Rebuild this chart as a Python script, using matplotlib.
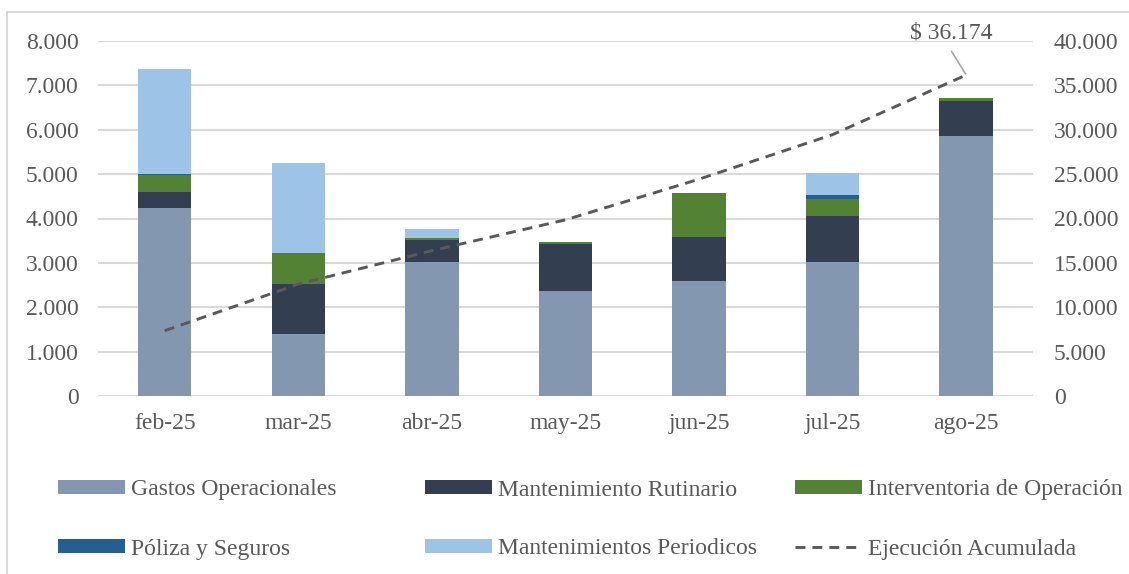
import matplotlib
matplotlib.use("Agg")
import matplotlib.pyplot as plt
from matplotlib.lines import Line2D
import numpy as np

months = ["feb-25", "mar-25", "abr-25", "may-25", "jun-25", "jul-25", "ago-25"]
gastos = [4244, 1390, 3014, 2375, 2595, 3015, 5850]
mant_rutinario = [346, 1145, 503, 1045, 977, 1045, 805]
interventoria = [393, 677, 45, 52, 1010, 377, 50]
poliza = [22, 0, 0, 0, 0, 97, 0]
mant_periodicos = [2355, 2030, 212, 0, 0, 490, 15]
acumulada = [7360, 12602, 16376, 19848, 24430, 29454, 36174]
left_ticks = [0, 1000, 2000, 3000, 4000, 5000, 6000, 7000, 8000]
right_ticks = [0, 5000, 10000, 15000, 20000, 25000, 30000, 35000, 40000]

series = [
    ("Gastos Operacionales", gastos, "#8497B0"),
    ("Mantenimiento Rutinario", mant_rutinario, "#333F50"),
    ("Interventoria de Operación", interventoria, "#548235"),
    ("Póliza y Seguros", poliza, "#255E91"),
    ("Mantenimientos Periodicos", mant_periodicos, "#9DC3E6"),
]

def fmt(v):
    return f"{int(v):,}".replace(",", ".")

FS = 17
TXT = "#595959"
GRID = "#D9D9D9"
plt.rcParams["font.family"] = ["Liberation Serif", "DejaVu Serif"]

W, H = 1129, 574
fig = plt.figure(figsize=(W / 100, H / 100), dpi=100)
ax = fig.add_axes([98 / W, 1 - 396 / H, (1033 - 98) / W, (396 - 41) / H])
ax2 = ax.twinx()

x = np.arange(len(months))
bottom = np.zeros(len(months))
handles = []
for name, vals, col in series:
    b = ax.bar(x, vals, 0.4, bottom=bottom, color=col, edgecolor="none", label=name, zorder=3)
    bottom += np.array(vals, dtype=float)
    handles.append((b, name))

ax.set_ylim(0, 8000)
ax.set_xlim(-0.5, len(months) - 0.5)
ax.set_yticks(left_ticks)
ax.set_yticklabels([fmt(v) for v in left_ticks])
ax.set_xticks(x)
ax.set_xticklabels(months)
ax.yaxis.grid(True, color=GRID, linewidth=1.5, zorder=0)
ax.set_axisbelow(True)
for s in ax.spines.values():
    s.set_visible(False)
ax.tick_params(axis="y", length=0, pad=14, labelsize=FS, labelcolor=TXT)
ax.tick_params(axis="x", length=0, pad=12, labelsize=FS, labelcolor=TXT)

(ln,) = ax2.plot(x, acumulada, color="#595959", linewidth=2.1, dashes=(3.4, 2.4),
                 label="Ejecución Acumulada", zorder=4)
ax2.set_ylim(0, 40000)
ax2.set_yticks(right_ticks)
ax2.set_yticklabels([fmt(v) for v in right_ticks])
for s in ax2.spines.values():
    s.set_visible(False)
ax2.tick_params(axis="y", length=0, pad=15, labelsize=FS, labelcolor=TXT)

ax2.annotate("$ " + fmt(acumulada[-1]), xy=(x[-1], acumulada[-1]),
             xytext=(-11, 30), textcoords="offset points", ha="center", va="center",
             fontsize=FS, color=TXT,
             arrowprops=dict(arrowstyle="-", color="#A6A6A6", lw=1.2, relpos=(0.45, 0.0),
                             shrinkA=4, shrinkB=1))

# legend, placed entry by entry
fs_px = FS * 100 / 72
entries = [
    (handles[0], 58, 490), (handles[1], 425, 490), (handles[2], 795, 490),
    (handles[3], 58, 549), (handles[4], 425, 549), ((ln, "Ejecución Acumulada"), 795, 549),
]
for (h, lab), px, py in entries:
    fig.legend([h], [lab], loc="center left", bbox_to_anchor=(px / W, 1 - py / H),
               frameon=False, borderpad=0, borderaxespad=0, fontsize=FS,
               handlelength=67 / fs_px, handleheight=0.5, handletextpad=6 / fs_px,
               labelcolor=TXT)

# outer chart border
fig.add_artist(Line2D([7 / W, 7 / W], [0, 1 - 12 / H], color=GRID, lw=1.5, transform=fig.transFigure))
fig.add_artist(Line2D([7 / W, 1], [1 - 12 / H, 1 - 12 / H], color=GRID, lw=1.5, transform=fig.transFigure))

fig.savefig("out.png", dpi=100)
